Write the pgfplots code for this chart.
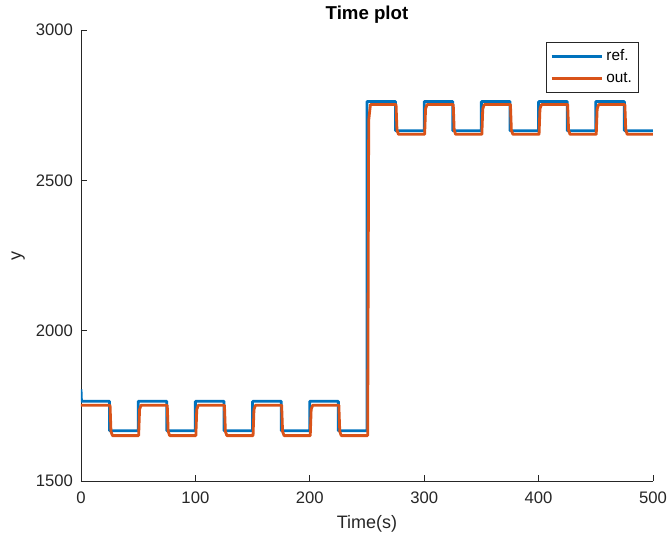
\documentclass[border=0pt]{standalone}
\usepackage{pgfplots}
\pgfplotsset{compat=1.18}
\usepackage{fontspec}
\setmainfont{Liberation Sans}
\definecolor{mblue}{HTML}{0072BD}
\definecolor{morange}{HTML}{D95319}
\definecolor{axgray}{HTML}{262626}
\begin{document}
\begin{tikzpicture}
\path[use as bounding box] (-60.75pt,-47.25pt) rectangle (442.5pt,360.75pt);
\begin{axis}[
  at={(0pt,0pt)}, anchor=south west,
  scale only axis, width=429pt, height=338.25pt,
  xmin=0, xmax=500, ymin=1500, ymax=3000,
  xtick={0,100,200,300,400,500},
  ytick={1500,2000,2500,3000},
  axis lines=left,
  axis line style={-, draw=axgray, line width=0.5pt},
  tick style={draw=axgray, line width=0.5pt},
  tick align=inside,
  major tick length=4.3pt,
  scaled ticks=false,
  /pgf/number format/assume math mode=true,
  /pgf/number format/1000 sep={},
  ticklabel style={font=\fontsize{12.5}{15}\selectfont, text=axgray},
  xticklabel style={yshift=-4.5pt},
  yticklabel style={xshift=-2.5pt},
  title={Time plot},
  every axis title/.style={at={(axis description cs:0.5,1)}, anchor=center, yshift=11.5pt, font=\fontsize{14}{16}\selectfont\bfseries, text=black},
  xlabel={Time(s)},
  every axis x label/.style={at={(axis description cs:0.5,0)}, anchor=center, yshift=-32.5pt, font=\fontsize{13.5}{16}\selectfont, text=axgray},
  ylabel={y},
  every axis y label/.style={at={(axis description cs:0,0.5)}, rotate=90, anchor=center, yshift=47pt, font=\fontsize{13.5}{16}\selectfont, text=axgray},
  legend style={at={(axis description cs:1,1)}, anchor=north east, xshift=-10.5pt, yshift=-9pt,
    draw=axgray, line width=0.5pt, font=\fontsize{11.5}{13}\selectfont, text=black,
    row sep=3.5pt, inner xsep=3pt, inner ysep=3.5pt},
  legend cell align=left,
  legend image code/.code={\draw[#1] (0pt,0pt) -- (38pt,0pt);},
]
\addplot[mblue, line width=2.1pt, line join=round] coordinates {
(0,1805)(0.4,1765)(25,1765)(25,1667)(50,1667)(50,1765)(75,1765)(75,1667)(100,1667)
(100,1765)(125,1765)(125,1667)(150,1667)(150,1765)(175,1765)(175,1667)(200,1667)
(200,1765)(225,1765)(225,1667)(250,1667)(250,2762)(275,2762)(275,2665)(300,2665)
(300,2762)(325,2762)(325,2665)(350,2665)(350,2762)(375,2762)(375,2665)(400,2665)
(400,2762)(425,2762)(425,2665)(450,2665)(450,2762)(475,2762)(475,2665)(500,2665)
};
\addlegendentry{ref.}
\addplot[morange, line width=2.1pt, line join=round] coordinates {
(0,1752)(25.4,1752)(26.2,1665)(27.5,1651)(50.4,1651)(51.2,1738)(52.5,1752)
(75.4,1752)(76.2,1665)(77.5,1651)(100.4,1651)(101.2,1738)(102.5,1752)
(125.4,1752)(126.2,1665)(127.5,1651)(150.4,1651)(151.2,1738)(152.5,1752)
(175.4,1752)(176.2,1665)(177.5,1651)(200.4,1651)(201.2,1738)(202.5,1752)
(225.4,1752)(226.2,1665)(227.5,1651)(250.6,1651)(251.5,2700)(253,2752)
(275.4,2752)(276.2,2667)(277.5,2653)(300.4,2653)(301.2,2738)(302.5,2752)
(325.4,2752)(326.2,2667)(327.5,2653)(350.4,2653)(351.2,2738)(352.5,2752)
(375.4,2752)(376.2,2667)(377.5,2653)(400.4,2653)(401.2,2738)(402.5,2752)
(425.4,2752)(426.2,2667)(427.5,2653)(450.4,2653)(451.2,2738)(452.5,2752)
(475.4,2752)(476.2,2667)(477.5,2653)(500,2653)
};
\addlegendentry{out.}
\end{axis}
\end{tikzpicture}
\end{document}
